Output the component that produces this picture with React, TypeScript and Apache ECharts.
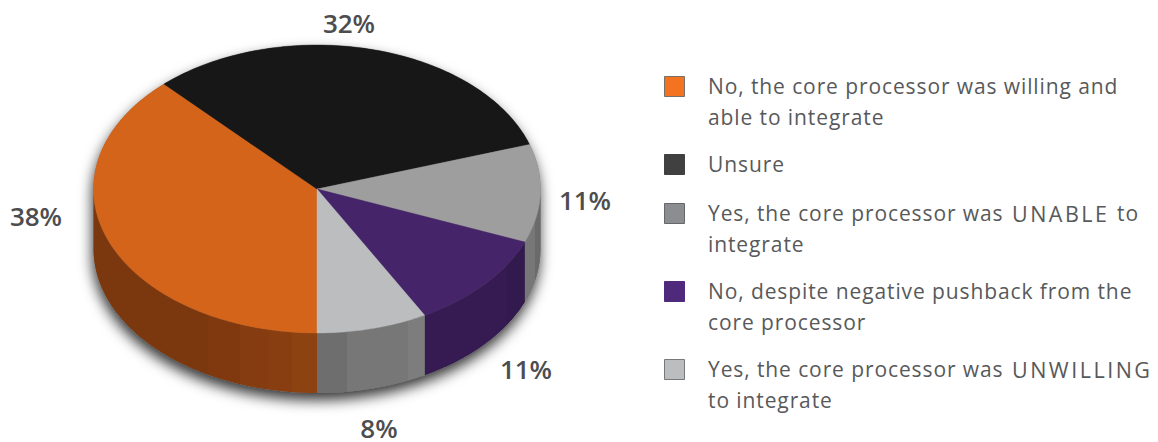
import React, { useEffect, useRef } from "react";
import * as echarts from "echarts";

const categories = [
  "No, the core processor was willing and\nable to integrate",
  "Unsure",
  "Yes, the core processor was |UNABLE| to\nintegrate",
  "No, despite negative pushback from the\ncore processor",
  "Yes, the core processor was |UNWILLING|\nto integrate",
];
const values = [38, 32, 11, 11, 8];

const topColors = ["#d5641b", "#171717", "#9e9e9e", "#46246a", "#bbbdbf"];
const swatchColors = ["#f47321", "#404041", "#8c8d90", "#4f2a7c", "#bbbdbf"];
const swatchBorders = ["#77706a", "#404041", "#666769", "#4f2a7c", "#77787a"];
const swatchTops = [76, 154, 203, 281, 359];
const labelCenters: [number, number][] = [
  [36, 216],
  [349, 23],
  [585, 200],
  [526, 369],
  [379, 428],
];

const CX = 317;
const CY = 189;
const RX = 223.5;
const RY = 144;
const DEPTH = 60;
const FONT = '"Open Sans"';
const TEXT_X = 708;
const CAPS_X = 1012;
const AFTER_CAPS_X = 1117;
const LINE = 31;

const tracking = `
  text[style*="21px"] { letter-spacing: 0.9px; }
  text[style*="21.5px"] { letter-spacing: 2.5px; }
`;

const sideFills: any[] = [
  band(94, 316, [
    [0, "#7b380f"],
    [0.513, "#7b380f"],
    [0.513, "#80390f"],
    [0.658, "#80390f"],
    [0.658, "#843c10"],
    [0.784, "#843c10"],
    [0.784, "#883e10"],
    [0.892, "#883e10"],
    [0.892, "#8d4211"],
    [1, "#8d4211"],
  ]),
  "#000",
  band(525, 541, [
    [0, "#777777"],
    [0.6, "#777777"],
    [0.6, "#6a6a6a"],
    [1, "#6a6a6a"],
  ]),
  band(425, 525, [
    [0, "#361b53"],
    [0.82, "#361b53"],
    [0.82, "#321a4e"],
    [1, "#321a4e"],
  ]),
  band(316, 425, [
    [0, "#6e6e6e"],
    [0.28, "#6e6e6e"],
    [0.28, "#777777"],
    [0.84, "#777777"],
    [0.84, "#7d7d7d"],
    [1, "#7d7d7d"],
  ]),
];

function band(x: number, x2: number, stops: [number, string][]) {
  return {
    type: "linear",
    global: true,
    x,
    y: 0,
    x2,
    y2: 0,
    colorStops: stops.map(([offset, color]) => ({ offset, color })),
  };
}

const total = values.reduce((a, b) => a + b, 0);
const startDeg = (i: number) =>
  (values.slice(0, i).reduce((a, b) => a + b, 0) / total) * 360;

// Angle runs clockwise from straight down.
function rim(deg: number, dy = 0): number[] {
  const a = (deg * Math.PI) / 180;
  return [CX - Math.sin(a) * RX, CY + Math.cos(a) * RY + dy];
}
function arc(from: number, to: number, dy = 0): number[][] {
  const n = Math.max(2, Math.ceil(Math.abs(to - from)));
  const pts: number[][] = [];
  for (let k = 0; k <= n; k++) pts.push(rim(from + ((to - from) * k) / n, dy));
  return pts;
}

function renderTop(params: any, api: any) {
  const i = params.dataIndex;
  const a0 = startDeg(i);
  const a1 = a0 + (api.value(0) / total) * 360;
  return {
    type: "polygon",
    shape: { points: [[CX, CY], ...arc(a0, a1)] },
    style: { fill: topColors[i], stroke: topColors[i], lineWidth: 0.4 },
  };
}

function renderSide(params: any, api: any) {
  const i = params.dataIndex;
  const a0 = startDeg(i);
  const a1 = a0 + (api.value(0) / total) * 360;
  const children: any[] = [];
  for (const [lo, hi] of [
    [0, 90],
    [270, 360],
  ]) {
    const s = Math.max(a0, lo);
    const e = Math.min(a1, hi);
    if (e <= s) continue;
    children.push({
      type: "polygon",
      shape: { points: [...arc(s, e), ...arc(e, s, DEPTH)] },
      style: { fill: sideFills[i], stroke: "none" },
    });
  }
  return { type: "group", children };
}

function renderShadow() {
  return {
    type: "polygon",
    shape: { points: [...arc(90, 270), ...arc(270, 450, DEPTH)] },
    style: {
      fill: "#666",
      shadowBlur: 14,
      shadowColor: "rgba(0,0,0,0.8)",
      shadowOffsetX: -1,
      shadowOffsetY: 7,
    },
  };
}

function renderLabel(params: any, api: any) {
  const [x, y] = labelCenters[params.dataIndex];
  return {
    type: "text",
    style: {
      x,
      y,
      text: `${api.value(0)}%`,
      font: `600 26px ${FONT}`,
      fill: "#4d4d4f",
      align: "center",
      verticalAlign: "middle",
    },
  };
}

function legendText(x: number, y: number, text: string, size: number) {
  return {
    type: "text",
    style: {
      x,
      y,
      text,
      font: `400 ${size}px ${FONT}`,
      fill: "#58595b",
      align: "left",
      verticalAlign: "middle",
    },
  };
}

export default function App() {
  const ref = useRef<HTMLDivElement>(null);
  useEffect(() => {
    document.body.style.margin = "0";
    const chart = echarts.init(ref.current!, undefined, { renderer: "svg" });
    const legend: any[] = [];
    categories.forEach((name, i) => {
      const first = swatchTops[i] + 10;
      legend.push({
        type: "rect",
        shape: { x: 664.5, y: swatchTops[i] + 0.5, width: 20, height: 20 },
        style: { fill: swatchColors[i], stroke: swatchBorders[i], lineWidth: 1 },
      });
      name.split("\n").forEach((line, l) => {
        const y = first + l * LINE;
        const [head, caps, tail] = line.split("|");
        legend.push(legendText(TEXT_X, y, head.trimEnd(), 21));
        if (caps) legend.push(legendText(CAPS_X, y, caps, 21.5));
        if (tail) legend.push(legendText(AFTER_CAPS_X, y, tail.trim(), 21));
      });
    });
    chart.setOption({
      animation: false,
      backgroundColor: "#ffffff",
      graphic: { elements: legend },
      series: [
        { type: "custom", coordinateSystem: "none", z: 1, silent: true, data: [total], renderItem: renderShadow },
        { type: "custom", coordinateSystem: "none", z: 2, silent: true, data: values, renderItem: renderSide },
        { type: "custom", coordinateSystem: "none", z: 3, silent: true, data: values, renderItem: renderTop },
        { type: "custom", coordinateSystem: "none", z: 4, silent: true, data: values, renderItem: renderLabel },
      ],
    });
    return () => chart.dispose();
  }, []);
  return (
    <>
      <style>{tracking}</style>
      <div ref={ref} style={{ width: 1158, height: 442 }} />
    </>
  );
}
